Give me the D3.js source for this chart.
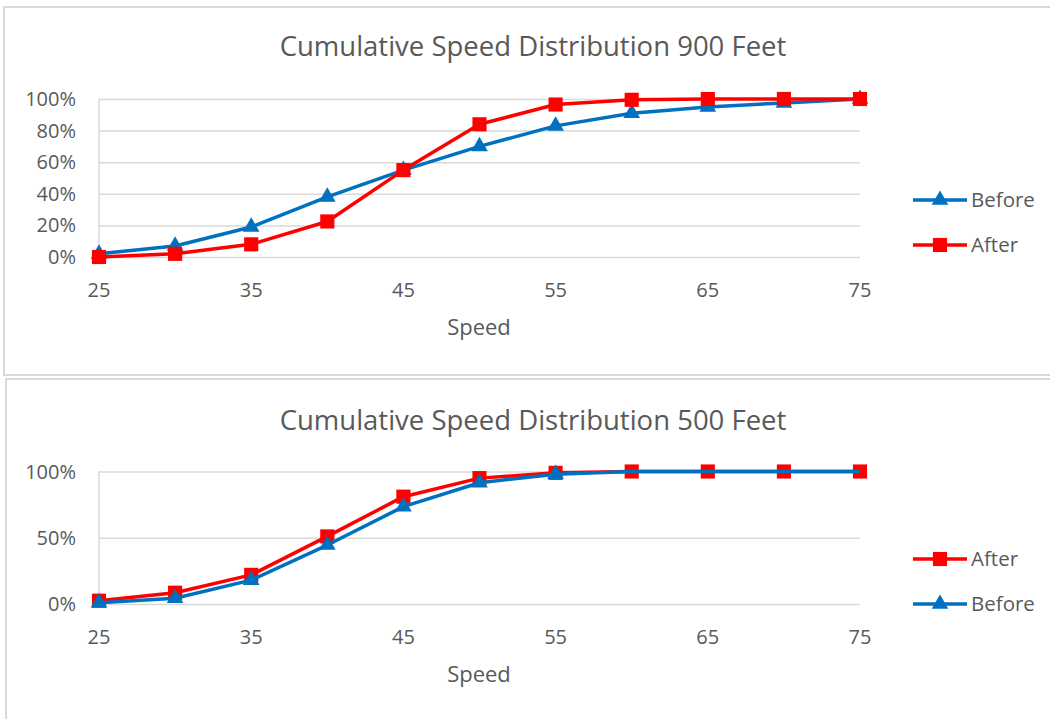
<!DOCTYPE html>
<html>
<head>
<meta charset="utf-8">
<script src="https://cdn.jsdelivr.net/npm/d3@7"></script>
<style>
    body { margin: 0; background: #fff; }
    svg text { font-family: "Open Sans", sans-serif; fill: #595959; }
    .grid line { stroke: #d9d9d9; stroke-width: 1.5; }
    .grid path { display: none; }
</style>
</head>
<body>
<svg id="chart" width="1050" height="719"></svg>
<script>
// speeds on the x axis
var speeds = [25, 30, 35, 40, 45, 50, 55, 60, 65, 70, 75];
var xTicks = [25, 35, 45, 55, 65, 75];

// 900 feet, cumulative share
var before900 = [0.02, 0.07, 0.19, 0.38, 0.55, 0.70, 0.83, 0.91, 0.95, 0.975, 1.0];
var after900 = [0.0, 0.02, 0.08, 0.225, 0.55, 0.84, 0.965, 0.995, 1.0, 1.0, 1.0];

// 500 feet, cumulative share
var after500 = [0.025, 0.085, 0.22, 0.51, 0.81, 0.95, 0.99, 1.0, 1.0, 1.0, 1.0];
var before500 = [0.01, 0.043, 0.18, 0.445, 0.735, 0.915, 0.98, 1.0, 1.0, 1.0, 1.0];

var blue = "#0070c0", red = "#ff0000";

var svg = d3.select("#chart");

// panel frames
svg.append("rect").attr("x", 4).attr("y", 7).attr("width", 1060).attr("height", 368)
    .attr("fill", "none").attr("stroke", "#d9d9d9").attr("stroke-width", 2);
svg.append("rect").attr("x", 6).attr("y", 379).attr("width", 1060).attr("height", 360)
    .attr("fill", "none").attr("stroke", "#d9d9d9").attr("stroke-width", 2);

function drawChart(cfg) {
    var g = svg.append("g");

    var x = d3.scaleLinear().domain([25, 75]).range([99, 860]);
    var y = d3.scaleLinear().domain([0, 1]).range([cfg.bottom, cfg.top]);

    // horizontal gridlines
    g.append("g")
        .attr("class", "grid")
        .attr("transform", "translate(99,0)")
        .call(d3.axisLeft(y).tickValues(cfg.yTicks).tickSize(-761).tickFormat(""));
    // left axis line
    g.append("line")
        .attr("x1", 99).attr("x2", 99)
        .attr("y1", cfg.top).attr("y2", cfg.bottom)
        .attr("stroke", "#d9d9d9").attr("stroke-width", 1.5);

    // y labels
    g.selectAll(".ylab")
        .data(cfg.yTicks)
        .enter()
        .append("text")
        .attr("x", 76)
        .attr("y", d => y(d))
        .attr("dy", "0.35em")
        .attr("text-anchor", "end")
        .style("font-size", "20px")
        .text(d3.format(".0%"));

    // x labels
    g.selectAll(".xlab")
        .data(xTicks)
        .enter()
        .append("text")
        .attr("x", d => x(d))
        .attr("y", cfg.bottom + 33)
        .attr("dy", "0.35em")
        .attr("text-anchor", "middle")
        .style("font-size", "20px")
        .text(d => d);

    g.append("text")
        .attr("x", 479)
        .attr("y", cfg.bottom + 70)
        .attr("dy", "0.35em")
        .attr("text-anchor", "middle")
        .style("font-size", "22px")
        .text("Speed");

    g.append("text")
        .attr("x", 533)
        .attr("y", cfg.titleY)
        .attr("dy", "0.35em")
        .attr("text-anchor", "middle")
        .style("font-size", "27.5px")
        .text(cfg.title);

    var line = d3.line()
        .x((d, i) => x(speeds[i]))
        .y(d => y(d));

    cfg.series.forEach(function (s) {
        g.append("path")
            .attr("d", line(s.values))
            .attr("fill", "none")
            .attr("stroke", s.color)
            .attr("stroke-width", s.width || 3.5)
            .attr("stroke-linejoin", "round");
        var pts = s.values.slice(0, s.markers === undefined ? s.values.length : s.markers);
        g.selectAll(null)
            .data(pts)
            .enter()
            .append("path")
            .attr("transform", (d, i) => "translate(" + x(speeds[i]) + "," + y(d) + ")")
            .attr("d", d3.symbol().type(s.symbol).size(s.symbol === d3.symbolSquare ? 200 : 120))
            .attr("fill", s.color);
    });

    // legend
    cfg.legend.forEach(function (s, i) {
        var ly = cfg.legendY + i * 45;
        g.append("line")
            .attr("x1", 913).attr("x2", 967)
            .attr("y1", ly).attr("y2", ly)
            .attr("stroke", s.color).attr("stroke-width", 3.5);
        g.append("path")
            .attr("transform", "translate(940," + ly + ")")
            .attr("d", d3.symbol().type(s.symbol).size(s.symbol === d3.symbolSquare ? 200 : 120))
            .attr("fill", s.color);
        g.append("text")
            .attr("x", 971)
            .attr("y", ly)
            .attr("dy", "0.35em")
            .style("font-size", "20.5px")
            .text(s.name);
    });
}

var sBefore900 = { name: "Before", values: before900, color: blue, symbol: d3.symbolTriangle };
var sAfter900 = { name: "After", values: after900, color: red, symbol: d3.symbolSquare };
drawChart({
    title: "Cumulative Speed Distribution 900 Feet",
    titleY: 46,
    top: 99, bottom: 257,
    yTicks: [0, 0.2, 0.4, 0.6, 0.8, 1.0],
    series: [sBefore900, sAfter900],
    legend: [sBefore900, sAfter900],
    legendY: 200
});

var sAfter500 = { name: "After", values: after500, color: red, symbol: d3.symbolSquare };
var sBefore500 = { name: "Before", values: before500, color: blue, symbol: d3.symbolTriangle, markers: 7 };
drawChart({
    title: "Cumulative Speed Distribution 500 Feet",
    titleY: 420,
    top: 471.5, bottom: 604,
    yTicks: [0, 0.5, 1.0],
    series: [sAfter500, sBefore500],
    legend: [sAfter500, sBefore500],
    legendY: 559
});
</script>
</body>
</html>
